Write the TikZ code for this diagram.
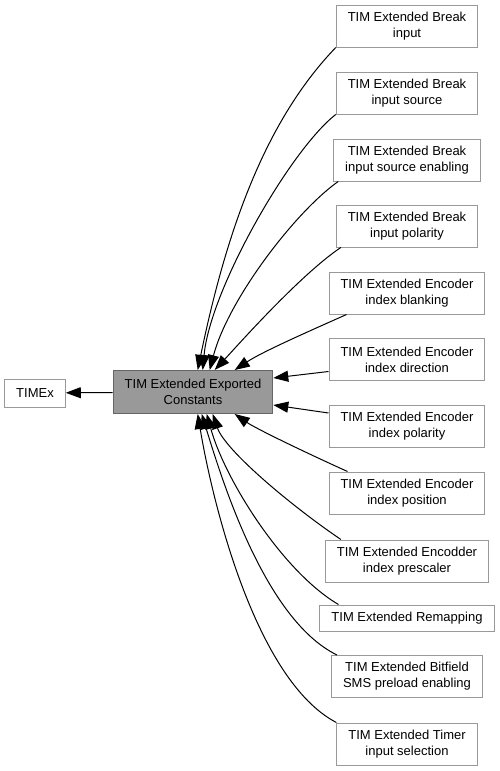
\documentclass[tikz,border=0pt]{standalone}
\usepackage{fontspec}
\setmainfont{Liberation Sans}
\usetikzlibrary{arrows.meta}
\definecolor{grpborder}{HTML}{999999}
\definecolor{mainfill}{HTML}{999999}
\definecolor{mainborder}{HTML}{666666}
\begin{document}
\begin{tikzpicture}[x=1pt,y=1pt,
  grp/.style={draw=grpborder,fill=white,line width=1pt,align=center,inner xsep=11.5pt,minimum height=42pt,font=\fontsize{13}{16}\selectfont},
  grpone/.style={grp,minimum height=26pt},
  dep/.style={line width=1pt,-{Triangle[length=15pt,width=11pt]}}]
\useasboundingbox (0,0) rectangle (500,-771);
\node[grp,fill=mainfill,draw=mainborder,minimum height=43pt] (main) at (193,-392) {TIM Extended Exported\\Constants};
\node[grpone,minimum height=28pt] (timex) at (35,-393) {TIMEx};
\node[grp] (b1) at (407,-26) {TIM Extended Break\\input};
\node[grp] (b2) at (407,-93) {TIM Extended Break\\input source};
\node[grp] (b3) at (407,-160) {TIM Extended Break\\input source enabling};
\node[grp] (b4) at (407,-226) {TIM Extended Break\\input polarity};
\node[grp] (b5) at (407,-293) {TIM Extended Encoder\\index blanking};
\node[grp] (b6) at (407,-359.5) {TIM Extended Encoder\\index direction};
\node[grp] (b7) at (407,-426) {TIM Extended Encoder\\index polarity};
\node[grp] (b8) at (407,-493) {TIM Extended Encoder\\index position};
\node[grp] (b9) at (407,-561) {TIM Extended Encodder\\index prescaler};
\node[grpone] (b10) at (407,-618) {TIM Extended Remapping};
\node[grp] (b11) at (407,-676.5) {TIM Extended Bitfield\\SMS preload enabling};
\node[grp] (b12) at (407,-744) {TIM Extended Timer\\input selection};
\draw[dep] (main) -- (timex);
\draw[dep] (b1.south west) .. controls (268,-118) and (228,-223) .. ([xshift=85pt]main.north west);
\draw[dep] (b2.south west) .. controls (290,-150) and (210,-290) .. ([xshift=90pt]main.north west);
\draw[dep] ([xshift=5pt]b3.south west) .. controls (295,-212) and (228,-300) .. ([xshift=97pt]main.north west);
\draw[dep] ([xshift=5pt]b4.south west) .. controls (300,-275) and (238,-345) .. ([xshift=102pt]main.north west);
\draw[dep] ([xshift=18pt]b5.south west) .. controls (305,-333) and (262,-352) .. ([xshift=122pt]main.north west);
\draw[dep] ([yshift=-12pt]b6.west) -- ([yshift=14pt]main.east);
\draw[dep] ([yshift=13pt]b7.west) -- ([yshift=-13pt]main.east);
\draw[dep] ([xshift=19pt]b8.north west) .. controls (300,-450) and (255,-428) .. ([xshift=122pt]main.south west);
\draw[dep] ([xshift=16pt]b9.north west) .. controls (290,-505) and (225,-450) .. ([xshift=100pt]main.south west);
\draw[dep] ([xshift=19pt]b10.north west) .. controls (283,-572) and (225,-480) .. ([xshift=94pt]main.south west);
\draw[dep] ([xshift=6pt]b11.north west) .. controls (265,-620) and (222,-480) .. ([xshift=89pt]main.south west);
\draw[dep] (b12.north west) .. controls (255,-680) and (212,-500) .. ([xshift=85pt]main.south west);
\end{tikzpicture}
\end{document}
